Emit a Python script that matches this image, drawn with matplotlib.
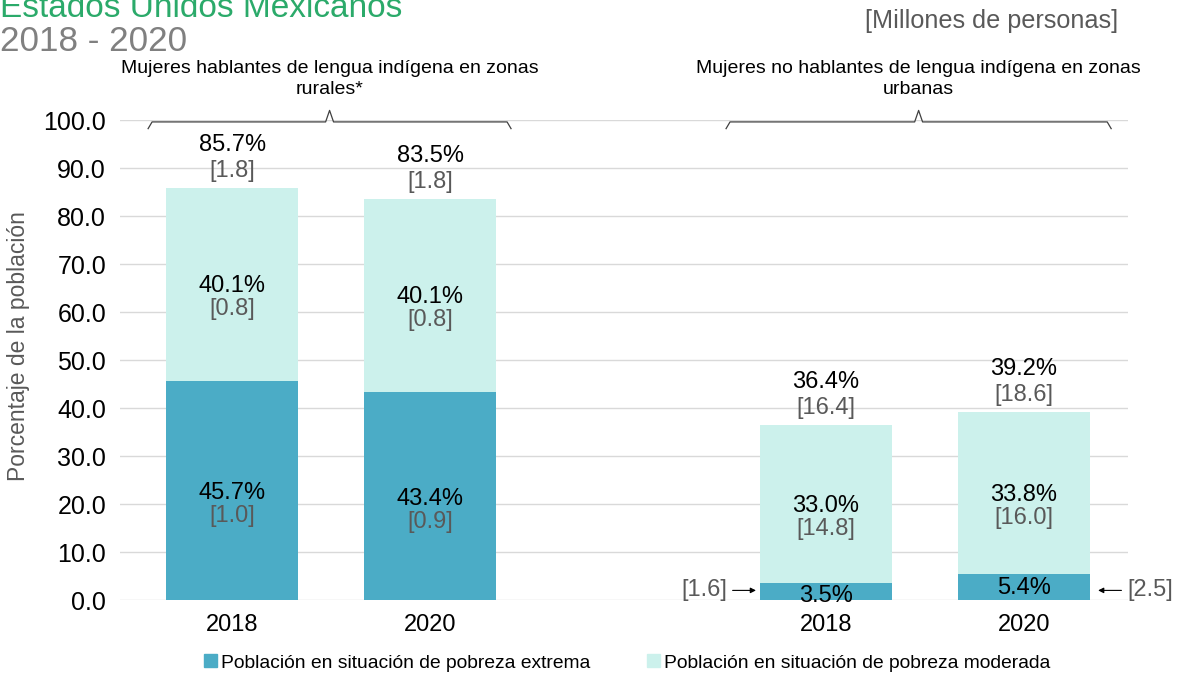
import numpy as np
import matplotlib.pyplot as plt
from matplotlib.patches import Patch

plt.rcParams['font.family'] = ['Liberation Sans', 'DejaVu Sans']

# data
years = ["2018", "2020", "", "2018", "2020"]
pos = [0, 1, 3, 4]
extrema = [45.7, 43.4, 3.5, 5.4]
moderada = [40.1, 40.1, 33.0, 33.8]
total = [85.7, 83.5, 36.4, 39.2]
mill_ext = ["[1.0]", "[0.9]", "[1.6]", "[2.5]"]
mill_mod = ["[0.8]", "[0.8]", "[14.8]", "[16.0]"]
mill_tot = ["[1.8]", "[1.8]", "[16.4]", "[18.6]"]
grupos = ["Mujeres hablantes de lengua indígena en zonas\nrurales*",
          "Mujeres no hablantes de lengua indígena en zonas\nurbanas"]

c_ext = "#4BACC6"
c_mod = "#CCF1EC"
gris = "#595959"
fs = 17

fig = plt.figure(figsize=(11.84, 6.76), dpi=100)
ax = fig.add_axes([120/1184, 1-600/676, 1008/1184, 480/676])

ax.bar(pos, extrema, width=0.667, color=c_ext, zorder=2)
ax.bar(pos, moderada, width=0.667, bottom=extrema, color=c_mod, zorder=2)

ax.set_ylim(0, 100)
ax.set_xlim(-0.566, 4.525)
ax.set_yticks(np.arange(0, 101, 10))
ax.set_yticklabels([f"{v:.1f}" for v in np.arange(0, 101, 10)], fontsize=18)
ax.set_xticks(range(5))
ax.set_xticklabels(years, fontsize=17)
ax.tick_params(axis="y", length=0, pad=10)
ax.tick_params(axis="x", length=0, pad=10)
ax.grid(axis="y", color="#D9D9D9", lw=1, zorder=0)
for s in ax.spines.values():
    s.set_visible(False)
ax.set_ylabel("Porcentaje de la población", fontsize=16.5, color=gris)
ax.yaxis.set_label_coords(-0.089, 0.529)

for i, x in enumerate(pos):
    top = extrema[i] + moderada[i]
    # totals
    ax.text(x, top + 3.6, mill_tot[i], ha="center", va="center", fontsize=fs, color=gris)
    ax.text(x, top + 9.0, f"{total[i]:.1f}%", ha="center", va="center", fontsize=fs)
    # moderate segment
    mid = extrema[i] + moderada[i] / 2
    ax.text(x, mid - 0.4, f"{moderada[i]:.1f}%", ha="center", va="center", fontsize=fs)
    ax.text(x, mid - 5.2, mill_mod[i], ha="center", va="center", fontsize=fs, color=gris)
    # extreme segment
    if extrema[i] > 10:
        mid = extrema[i] / 2
        ax.text(x, mid - 0.6, f"{extrema[i]:.1f}%", ha="center", va="center", fontsize=fs)
        ax.text(x, mid - 5.4, mill_ext[i], ha="center", va="center", fontsize=fs, color=gris)

# small bars: labels and arrows
ax.text(pos[2], 0.9, f"{extrema[2]:.1f}%", ha="center", va="center", fontsize=fs)
ax.text(pos[3], 2.6, f"{extrema[3]:.1f}%", ha="center", va="center", fontsize=fs)
ax.annotate(mill_ext[2], xy=(pos[2] - 0.34, 2.0), xytext=(pos[2] - 0.5, 2.0),
            ha="right", va="center", fontsize=fs, color=gris,
            arrowprops=dict(arrowstyle="-|>", color="black", lw=0.8, mutation_scale=8))
ax.annotate(mill_ext[3], xy=(pos[3] + 0.36, 2.0), xytext=(pos[3] + 0.52, 2.0),
            ha="left", va="center", fontsize=fs, color=gris,
            arrowprops=dict(arrowstyle="-|>", color="black", lw=0.8, mutation_scale=8))

# braces and group titles
for (x0, x1), g in zip([(-0.424, 1.409), (2.495, 4.44)], grupos):
    xc = (x0 + x1) / 2
    ax.plot([x0, x0 + 0.02, xc - 0.02, xc, xc + 0.02, x1 - 0.02, x1],
            [98.2, 99.6, 99.6, 102.0, 99.6, 99.6, 98.2],
            color="#404040", lw=0.9, clip_on=False)
    ax.text(xc, 104.6, g, ha="center", va="bottom", fontsize=14,
            linespacing=1.3, clip_on=False)

fig.text(1118/1184, 1-21/676, "[Millones de personas]", ha="right", va="center",
         fontsize=18.2, color=gris)
fig.text(0.0, 1-17/676, "Estados Unidos Mexicanos", ha="left", va="baseline",
         fontsize=24, color="#2BAA6A")
fig.text(0.0, 1-51/676, "2018 - 2020", ha="left", va="baseline",
         fontsize=25.3, color="#808080")

handles = [Patch(color=c_ext), Patch(color=c_mod)]
labels = ["Población en situación de pobreza extrema",
          "Población en situación de pobreza moderada"]
fig.legend(handles, labels, loc="center", bbox_to_anchor=(627/1184, 1-663/676),
           ncol=2, frameon=False, fontsize=13.9, handlelength=0.67, handleheight=0.67,
           handletextpad=0.2, columnspacing=2.95)

fig.savefig("out.png", dpi=100)
